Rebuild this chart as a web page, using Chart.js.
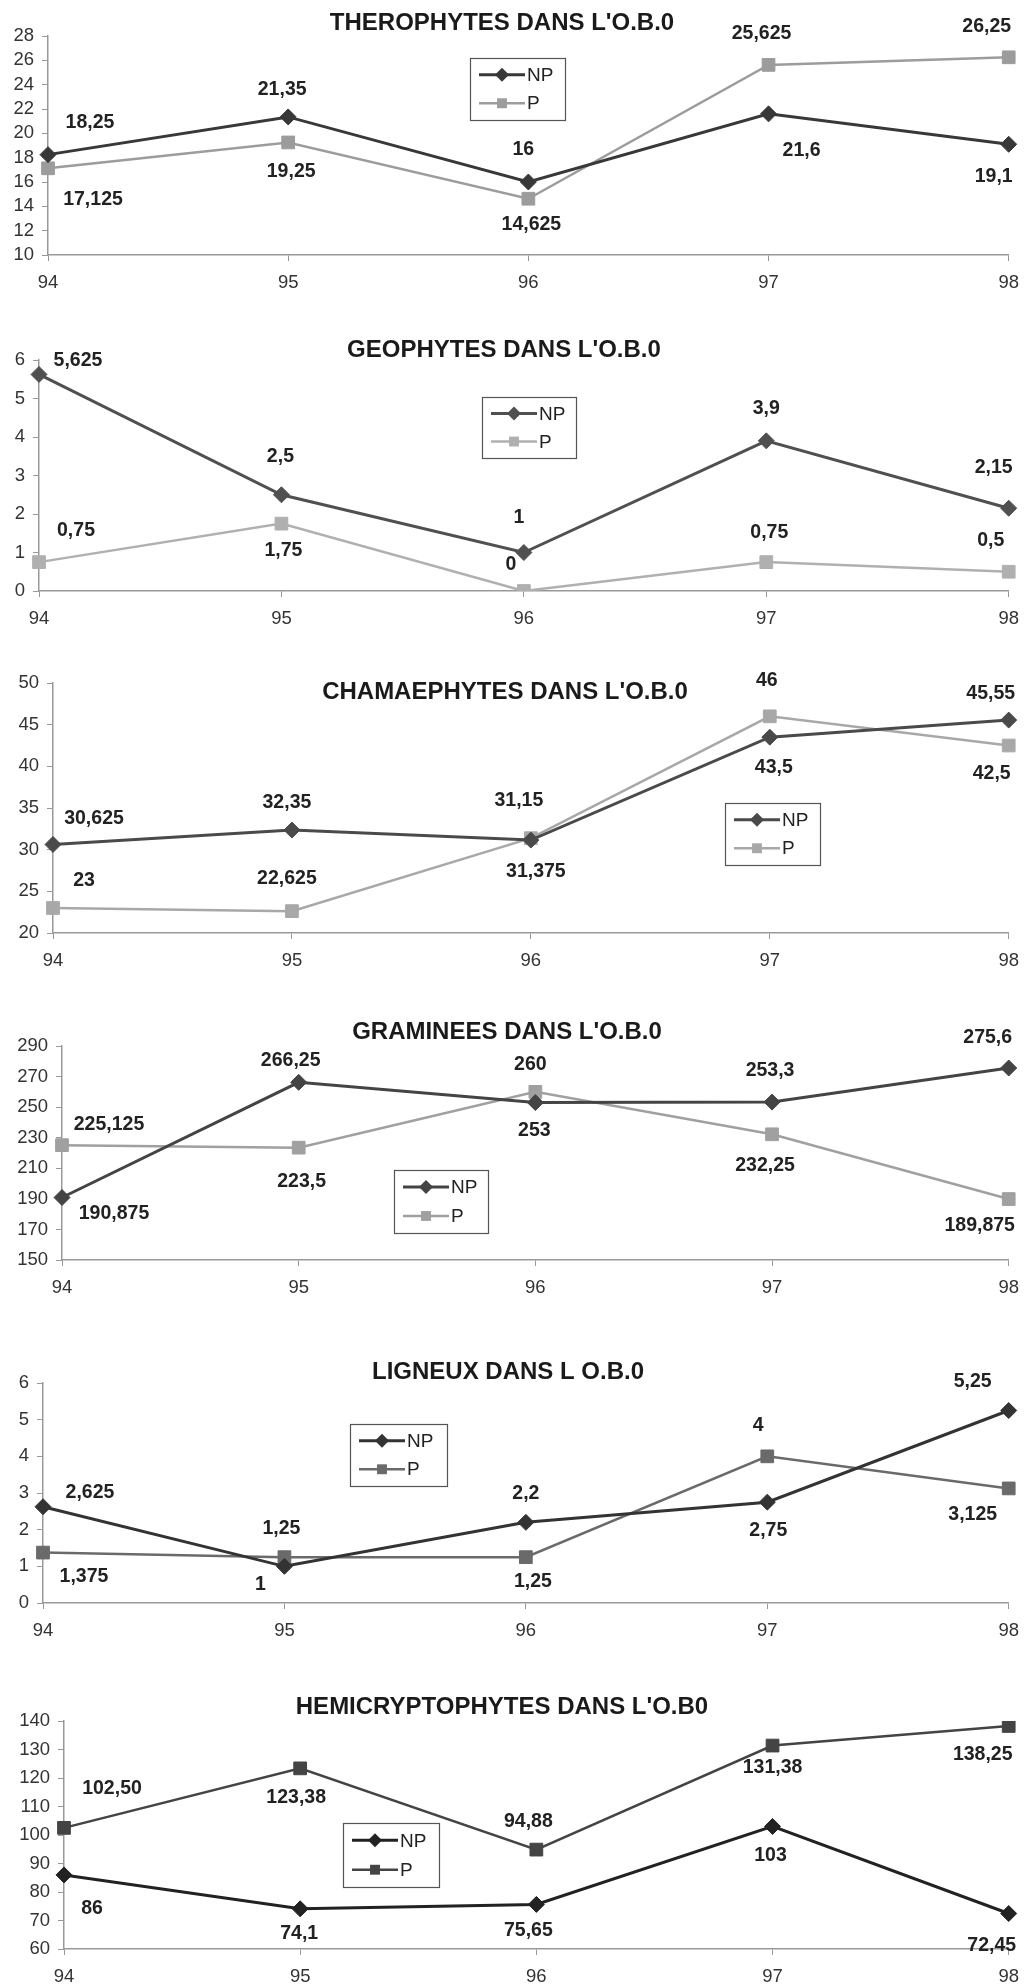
<!DOCTYPE html>
<html>
<head>
<meta charset="utf-8">
<script src="https://cdn.jsdelivr.net/npm/chart.js@4.4.1/dist/chart.umd.min.js"></script>
<style>
  html, body { margin: 0; padding: 0; background: #fff; }
  body { width: 1030px; height: 1984px; position: relative; overflow: hidden; }
  .panel { position: absolute; left: 0; width: 1030px; }
</style>
</head>
<body>
<script>
"use strict";

const years = ["94", "95", "96", "97", "98"];

// THEROPHYTES
const theroNP = [18.25, 21.35, 16, 21.6, 19.1];
const theroP = [17.125, 19.25, 14.625, 25.625, 26.25];
const theroTicks = [10, 12, 14, 16, 18, 20, 22, 24, 26, 28];

// GEOPHYTES
const geoNP = [5.625, 2.5, 1, 3.9, 2.15];
const geoP = [0.75, 1.75, 0, 0.75, 0.5];
const geoTicks = [0, 1, 2, 3, 4, 5, 6];

// CHAMAEPHYTES
const chamNP = [30.625, 32.35, 31.15, 43.5, 45.55];
const chamP = [23, 22.625, 31.375, 46, 42.5];
const chamTicks = [20, 25, 30, 35, 40, 45, 50];

// GRAMINEES
const gramNP = [190.875, 266.25, 253, 253.3, 275.6];
const gramP = [225.125, 223.5, 260, 232.25, 189.875];
const gramTicks = [150, 170, 190, 210, 230, 250, 270, 290];

// LIGNEUX
const ligNP = [2.625, 1, 2.2, 2.75, 5.25];
const ligP = [1.375, 1.25, 1.25, 4, 3.125];
const ligTicks = [0, 1, 2, 3, 4, 5, 6];

// HEMICRYPTOPHYTES
const hemiNP = [86, 74.1, 75.65, 103, 72.45];
const hemiP = [102.5, 123.38, 94.88, 131.38, 138.25];
const hemiTicks = [60, 70, 80, 90, 100, 110, 120, 130, 140];

const FONT = '"Liberation Sans", Arial, sans-serif';

// page layout of each panel (page pixels) + where the value labels sit
const panels = [
  {
    title: "THEROPHYTES DANS L'O.B.0", np: theroNP, p: theroP, ticks: theroTicks,
    plot: { top: 36, bottom: 255, left: 48, right: 1010 }, titlePos: [502, 23],
    legend: [470, 58, 95, 62], colors: ["#383838", "#9c9c9c"],
    npOff: [[42, -32], [-6, -27], [-5, -32], [33, 37], [-15, 32]],
    pOff: [[45, 31], [3, 29], [3, 26], [-7, -31], [-22, -31]]
  },
  {
    title: "GEOPHYTES DANS L'O.B.0", np: geoNP, p: geoP, ticks: geoTicks,
    plot: { top: 360, bottom: 591, left: 39, right: 1017 }, titlePos: [504, 350],
    legend: [482, 397, 94, 61], colors: ["#505050", "#b0b0b0"],
    npOff: [[39, -14], [-1, -38], [-5, -35], [0, -32], [-15, -41]],
    pOff: [[37, -32], [2, 27], [-13, -26], [3, -30], [-18, -31]]
  },
  {
    title: "CHAMAEPHYTES DANS L'O.B.0", np: chamNP, p: chamP, ticks: chamTicks,
    plot: { top: 683, bottom: 933, left: 53, right: 1010 }, titlePos: [505, 692],
    legend: [725, 803, 95, 62], colors: ["#4a4a4a", "#a8a8a8"],
    npOff: [[41, -26], [-5, -27], [-12, -39], [4, 30], [-18, -26]],
    pOff: [[31, -27], [-5, -33], [5, 33], [-3, -36], [-17, 28]]
  },
  {
    title: "GRAMINEES DANS L'O.B.0", np: gramNP, p: gramP, ticks: gramTicks,
    plot: { top: 1046, bottom: 1260, left: 62, right: 1018 }, titlePos: [507, 1032],
    legend: [394, 1170, 94, 63], colors: ["#444444", "#a0a0a0"],
    npOff: [[52, 16], [-8, -22], [-1, 28], [-2, -31], [-21, -30]],
    pOff: [[47, -21], [3, 34], [-5, -27], [-7, 31], [-29, 27]]
  },
  {
    title: "LIGNEUX DANS L O.B.0", np: ligNP, p: ligP, ticks: ligTicks,
    plot: { top: 1383, bottom: 1603, left: 43, right: 1015 }, titlePos: [508, 1372],
    legend: [350, 1424, 97, 62], colors: ["#333333", "#6a6a6a"],
    npOff: [[47, -14], [-24, 18], [0, -29], [1, 28], [-36, -29]],
    pOff: [[41, 24], [-3, -29], [7, 24], [-9, -31], [-36, 26]]
  },
  {
    title: "HEMICRYPTOPHYTES DANS L'O.B0", np: hemiNP, p: hemiP, ticks: hemiTicks, pDecimals: 2,
    plot: { top: 1721, bottom: 1949, left: 64, right: 1012 }, titlePos: [502, 1707],
    legend: [343, 1823, 96, 64], colors: ["#222222", "#444444"],
    npOff: [[28, 34], [-1, 25], [-8, 26], [-2, 29], [-17, 32]],
    pOff: [[48, -39], [-4, 29], [-8, -28], [0, 22], [-26, 29]]
  }
];

// 94,5 style numbers
function fmt(v, dec) {
  const s = dec != null ? v.toFixed(dec) : String(v);
  return s.replace(".", ",");
}

function drawMarker(ctx, style, x, y, r) {
  ctx.beginPath();
  if (style === "rectRot") {
    ctx.moveTo(x, y - r); ctx.lineTo(x + r, y); ctx.lineTo(x, y + r); ctx.lineTo(x - r, y);
  } else {
    const s = r * Math.SQRT1_2;
    ctx.rect(x - s, y - s, 2 * s, 2 * s);
  }
  ctx.closePath();
  ctx.fill();
}

// value labels, title and the boxed legend
const decoPlugin = {
  id: "deco",
  afterDatasetsDraw(chart, args, opts) {
    const ctx = chart.ctx;
    ctx.save();
    ctx.font = "bold 19.5px " + FONT;
    ctx.fillStyle = "#222";
    ctx.textAlign = "center";
    ctx.textBaseline = "middle";
    chart.data.datasets.forEach((ds, i) => {
      chart.getDatasetMeta(i).data.forEach((pt, j) => {
        const off = ds.labelOffsets[j];
        ctx.fillText(fmt(ds.data[j], ds.decimals), pt.x + off[0], pt.y + off[1]);
      });
    });
    ctx.restore();
  },
  afterDraw(chart, args, opts) {
    const ctx = chart.ctx;
    ctx.save();
    // title
    ctx.font = "bold 24px " + FONT;
    ctx.fillStyle = "#1a1a1a";
    ctx.textAlign = "center";
    ctx.textBaseline = "middle";
    ctx.fillText(opts.title, opts.titleX, opts.titleY);

    // legend box
    const [lx, ly, lw, lh] = opts.legend;
    ctx.fillStyle = "#fff";
    ctx.fillRect(lx, ly, lw, lh);
    ctx.strokeStyle = "#555";
    ctx.lineWidth = 1.2;
    ctx.strokeRect(lx + 0.5, ly + 0.5, lw, lh);
    ctx.font = "19px " + FONT;
    ctx.textAlign = "left";
    chart.data.datasets.forEach((ds, i) => {
      const y = ly + lh * (i === 0 ? 0.27 : 0.73);
      ctx.strokeStyle = ds.borderColor;
      ctx.lineWidth = ds.borderWidth;
      ctx.beginPath();
      ctx.moveTo(lx + 9, y);
      ctx.lineTo(lx + 55, y);
      ctx.stroke();
      ctx.fillStyle = ds.borderColor;
      drawMarker(ctx, ds.pointStyle, lx + 32, y, 7);
      ctx.fillStyle = "#222";
      ctx.fillText(ds.label, lx + 57, y + 1);
    });
    ctx.restore();
  }
};

panels.forEach(pn => {
  const canvasTop = pn.plot.top - 36;
  const height = pn.plot.bottom - canvasTop + 40;

  const wrap = document.createElement("div");
  wrap.className = "panel";
  wrap.style.top = canvasTop + "px";
  wrap.style.height = height + "px";
  const canvas = document.createElement("canvas");
  canvas.width = 1030;
  canvas.height = height;
  wrap.appendChild(canvas);
  document.body.appendChild(wrap);

  const ticks = pn.ticks;
  const plot = pn.plot;

  new Chart(canvas.getContext("2d"), {
    type: "line",
    data: {
      labels: years,
      datasets: [
        {
          label: "NP", data: pn.np, borderColor: pn.colors[0], backgroundColor: pn.colors[0],
          borderWidth: 3, pointStyle: "rectRot", pointRadius: 8, pointBorderWidth: 1,
          tension: 0, labelOffsets: pn.npOff
        },
        {
          label: "P", data: pn.p, borderColor: pn.colors[1], backgroundColor: pn.colors[1],
          borderWidth: 2.5, pointStyle: "rect", pointRadius: 9, pointBorderWidth: 1,
          tension: 0, labelOffsets: pn.pOff, decimals: pn.pDecimals
        }
      ]
    },
    options: {
      responsive: false,
      animation: false,
      layout: { padding: { top: plot.top - canvasTop, right: 1030 - plot.right, left: 0, bottom: 0 } },
      plugins: {
        legend: { display: false },
        tooltip: { enabled: false },
        deco: {
          title: pn.title,
          titleX: pn.titlePos[0],
          titleY: pn.titlePos[1] - canvasTop,
          legend: [pn.legend[0], pn.legend[1] - canvasTop, pn.legend[2], pn.legend[3]]
        }
      },
      scales: {
        x: {
          offset: false,
          grid: { display: true, drawOnChartArea: false, drawTicks: true, tickLength: 6, color: "#999" },
          border: { color: "#999", width: 1.5 },
          ticks: { font: { family: FONT, size: 18.5 }, color: "#333", padding: 11, maxRotation: 0, autoSkip: false },
          afterFit: s => { s.height = 40; }
        },
        y: {
          min: ticks[0],
          max: ticks[ticks.length - 1],
          grid: { display: true, drawOnChartArea: false, drawTicks: true, tickLength: 6, color: "#999" },
          border: { color: "#999", width: 1.5 },
          ticks: {
            stepSize: ticks[1] - ticks[0], autoSkip: false,
            font: { family: FONT, size: 18.5 }, color: "#333", padding: 8
          },
          afterFit: s => { s.width = plot.left; }
        }
      }
    },
    plugins: [decoPlugin]
  });
});
</script>
</body>
</html>
